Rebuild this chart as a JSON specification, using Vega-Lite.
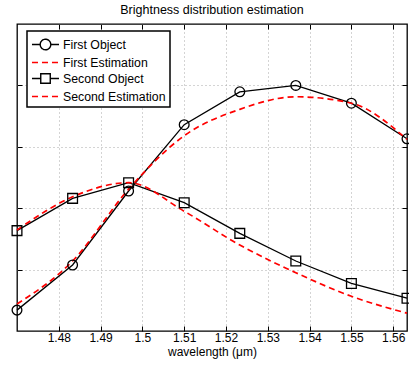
{
  "$schema": "https://vega.github.io/schema/vega-lite/v6.json",
  "width": 390,
  "height": 307,
  "autosize": "none",
  "padding": {"left": 17, "top": 24, "right": 2, "bottom": 34},
  "title": {"text": "Brightness distribution estimation", "fontSize": 12.5, "font": "Liberation Sans", "fontWeight": "normal", "color": "black", "offset": 7},
  "config": {
    "view": {"stroke": "black", "strokeWidth": 1.3},
    "axis": {
      "domain": false,
      "tickColor": "black",
      "tickSize": -5,
      "tickWidth": 1,
      "labelFont": "Liberation Sans",
      "labelFontSize": 12,
      "labelColor": "black",
      "titleFont": "Liberation Sans",
      "titleFontSize": 12,
      "titleFontWeight": "normal",
      "titleColor": "black",
      "gridColor": "#a8a8a8",
      "gridDash": [1, 3],
      "gridWidth": 1,
      "gridOpacity": 1
    }
  },
  "data": {
    "values": [
      {"x": 1.47, "y": 0.068, "series": "First Object"},
      {"x": 1.4833, "y": 0.215, "series": "First Object"},
      {"x": 1.4967, "y": 0.456, "series": "First Object"},
      {"x": 1.51, "y": 0.672, "series": "First Object"},
      {"x": 1.5233, "y": 0.779, "series": "First Object"},
      {"x": 1.5367, "y": 0.800, "series": "First Object"},
      {"x": 1.55, "y": 0.742, "series": "First Object"},
      {"x": 1.5633, "y": 0.626, "series": "First Object"},
      {"x": 1.47, "y": 0.088, "series": "First Estimation"},
      {"x": 1.4833, "y": 0.228, "series": "First Estimation"},
      {"x": 1.4967, "y": 0.462, "series": "First Estimation"},
      {"x": 1.51, "y": 0.636, "series": "First Estimation"},
      {"x": 1.5233, "y": 0.722, "series": "First Estimation"},
      {"x": 1.5367, "y": 0.763, "series": "First Estimation"},
      {"x": 1.55, "y": 0.742, "series": "First Estimation"},
      {"x": 1.5633, "y": 0.624, "series": "First Estimation"},
      {"x": 1.47, "y": 0.327, "series": "Second Object"},
      {"x": 1.4833, "y": 0.432, "series": "Second Object"},
      {"x": 1.4967, "y": 0.483, "series": "Second Object"},
      {"x": 1.51, "y": 0.418, "series": "Second Object"},
      {"x": 1.5233, "y": 0.318, "series": "Second Object"},
      {"x": 1.5367, "y": 0.228, "series": "Second Object"},
      {"x": 1.55, "y": 0.155, "series": "Second Object"},
      {"x": 1.5633, "y": 0.107, "series": "Second Object"},
      {"x": 1.47, "y": 0.329, "series": "Second Estimation"},
      {"x": 1.4833, "y": 0.437, "series": "Second Estimation"},
      {"x": 1.4967, "y": 0.483, "series": "Second Estimation"},
      {"x": 1.51, "y": 0.39, "series": "Second Estimation"},
      {"x": 1.5233, "y": 0.28, "series": "Second Estimation"},
      {"x": 1.5367, "y": 0.19, "series": "Second Estimation"},
      {"x": 1.55, "y": 0.113, "series": "Second Estimation"},
      {"x": 1.5633, "y": 0.058, "series": "Second Estimation"}
    ]
  },
  "layer": [
    {
      "transform": [{"filter": "indexof(datum.series, 'Object') >= 0"}],
      "mark": {"type": "line", "strokeWidth": 1.3},
      "encoding": {
        "x": {"field": "x", "type": "quantitative", "scale": {"domain": [1.47, 1.5633], "nice": false, "zero": false},
              "axis": {"values": [1.48, 1.49, 1.5, 1.51, 1.52, 1.53, 1.54, 1.55, 1.56], "format": "~g", "title": "wavelength (\u03bcm)", "grid": true, "labelPadding": 6, "titlePadding": 3}},
        "y": {"field": "y", "type": "quantitative", "scale": {"domain": [0, 1], "nice": false},
              "axis": {"values": [0.2, 0.4, 0.6, 0.8], "labels": false, "title": null, "grid": true}},
        "color": {"field": "series", "type": "nominal",
                  "scale": {"domain": ["First Object", "First Estimation", "Second Object", "Second Estimation"], "range": ["black", "#ff0000", "black", "#ff0000"]},
                  "legend": {
                    "title": null, "orient": "none", "legendX": 10, "legendY": 7, "direction": "vertical",
                    "fillColor": "white", "strokeColor": "black", "padding": 4,
                    "symbolSize": 289, "rowPadding": 0, "symbolOffset": 5, "labelOffset": 8,
                    "labelFont": "Liberation Sans", "labelFontSize": 12.3, "labelColor": "black",
                    "encode": {
                      "symbols": {"update": {
                        "shape": {"signal": "datum.value === 'First Object' ? 'M-1.59,0L-0.62,0M0.62,0L1.59,0M-0.62,0A0.62,0.62 0 1,0 0.62,0A0.62,0.62 0 1,0 -0.62,0' : datum.value === 'Second Object' ? 'M-1.59,0L-0.56,0M0.56,0L1.59,0M-0.56,-0.56L0.56,-0.56L0.56,0.56L-0.56,0.56Z' : 'M-1.59,0L1.59,0'"},
                        "strokeDash": {"signal": "indexof(datum.value, 'Estimation') >= 0 ? [6, 4] : [1, 0]"},
                        "fill": {"value": "transparent"},
                        "strokeWidth": {"value": 1.4},
                        "opacity": {"value": 1}
                      }},
                      "legend": {"update": {"strokeWidth": {"value": 1.5}}}
                    }
                  }}
      }
    },
    {
      "transform": [{"filter": "indexof(datum.series, 'Estimation') >= 0"}],
      "mark": {"type": "line", "strokeWidth": 1.7, "strokeDash": [6, 4], "interpolate": "monotone"},
      "encoding": {
        "x": {"field": "x", "type": "quantitative", "axis": {"orient": "top", "values": [1.48, 1.49, 1.5, 1.51, 1.52, 1.53, 1.54, 1.55, 1.56], "labels": false, "title": null, "grid": false}},
        "y": {"field": "y", "type": "quantitative", "axis": {"orient": "right", "values": [0.2, 0.4, 0.6, 0.8], "labels": false, "title": null, "grid": false}},
        "color": {"field": "series", "type": "nominal"}
      }
    },
    {
      "transform": [{"filter": "indexof(datum.series, 'Object') >= 0"}],
      "mark": {"type": "point", "filled": false, "size": 95, "strokeWidth": 1.3, "opacity": 1, "color": "black"},
      "encoding": {
        "x": {"field": "x", "type": "quantitative", "axis": null},
        "y": {"field": "y", "type": "quantitative", "axis": null},
        "shape": {"field": "series", "type": "nominal", "scale": {"domain": ["First Object", "Second Object"], "range": ["circle", "square"]}, "legend": null}
      }
    }
  ],
  "resolve": {"axis": {"x": "independent", "y": "independent"}}
}
